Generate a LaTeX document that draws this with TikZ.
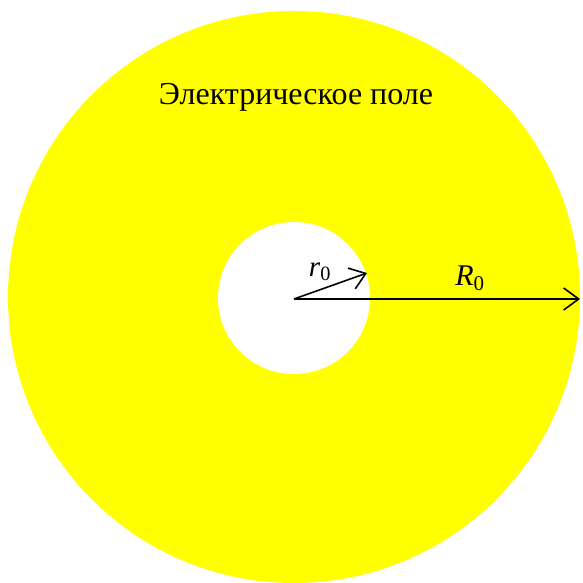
\documentclass[tikz,border=0pt]{standalone}
\usepackage{fontspec}
\setmainfont{Liberation Serif}
\usetikzlibrary{arrows.meta}
\definecolor{fieldyellow}{HTML}{FFFF00}
\tikzset{
  vecline/.style={line width=1.6pt, black, -{Straight Barb[length=15pt,width=22pt,line width=1.6pt]}},
  lbl/.style={inner sep=0pt, anchor=base, font=\fontsize{32}{38}\selectfont},
}
\begin{document}
\begin{tikzpicture}[x=1pt,y=-1pt]
  \useasboundingbox[fill=white] (0,0) rectangle (582,583);
  \coordinate (O) at (294,299);
  \fill[fieldyellow] (294,297) circle[radius=286];
  \fill[white] (294,298) circle[radius=76];
  \coordinate (Rtip) at (580,299);
  \coordinate (rtip) at (367,273);
  \draw[vecline] (O) -- (Rtip);
  \draw[vecline] (O) -- (rtip);
  \node[lbl] (title) at (296,105) {Электрическое поле};
  \node[lbl, font=\fontsize{30}{36}\selectfont] (Rlabel) at (470,285) {\textit{R}\textsubscript{0}};
  \node[lbl, font=\fontsize{29}{34}\selectfont] (rlabel) at (320,276) {\textit{r}\textsubscript{0}};
\end{tikzpicture}
\end{document}
